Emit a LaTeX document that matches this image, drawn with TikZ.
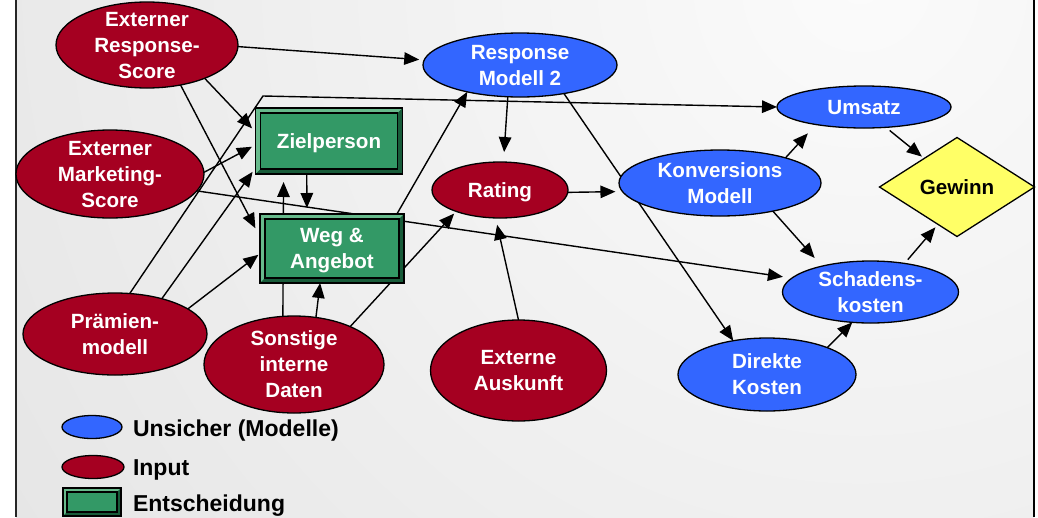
\documentclass[tikz,border=0pt]{standalone}
\usepackage{fontspec}
\setmainfont{Liberation Sans}
\usetikzlibrary{shapes.geometric,arrows.meta,calc}
\pgfdeclarelayer{bg}
\pgfdeclarelayer{edges}
\pgfsetlayers{bg,edges,main}

\definecolor{inred}{RGB}{165,0,33}
\definecolor{unblue}{RGB}{51,102,255}
\definecolor{decgreen}{RGB}{51,153,102}
\definecolor{declight}{RGB}{104,186,140}
\definecolor{decdark}{RGB}{24,92,58}
\definecolor{goalyellow}{RGB}{255,255,102}
\definecolor{paneldark}{RGB}{227,227,227}
\definecolor{panellight}{RGB}{251,251,251}

% centred multi-line label that does not enlarge its node
\newcommand\lbl[1]{\smash{\makebox[0pt]{\raisebox{-0.35em}{\begin{tabular}{@{}c@{}}#1\end{tabular}}}}}

% bevelled frame of a decision box
\newcommand\decbevel[2]{%
  \fill[declight] (#1.north west) -- (#1.north east) -- ($(#1.north east)+(-#2,-#2)$)
    -- ($(#1.north west)+(#2,-#2)$) -- ($(#1.south west)+(#2,#2)$) -- (#1.south west) -- cycle;
  \fill[decdark] (#1.south east) -- (#1.north east) -- ($(#1.north east)+(-#2,-#2)$)
    -- ($(#1.south east)+(-#2,#2)$) -- ($(#1.south west)+(#2,#2)$) -- (#1.south west) -- cycle;
  \draw[line width=1.2] ($(#1.north west)+(#2,-#2)$) rectangle ($(#1.south east)+(-#2,#2)$);
  \draw[line width=1.4] (#1.north west) rectangle (#1.south east);
}

\tikzset{
  x=1pt, y=1pt,
  every node/.style={inner sep=0, outer sep=0},
  nodefont/.style={font=\fontsize{20.6}{26}\selectfont\bfseries},
  inell/.style={nodefont, ellipse, draw=black, line width=1.3, fill=inred, text=white},
  unell/.style={nodefont, ellipse, draw=black, line width=1.3, fill=unblue, text=white},
  decbox/.style={nodefont, rectangle, draw=black, line width=1.3, fill=decgreen, text=white},
  goal/.style={nodefont, diamond, draw=black, line width=1.3, fill=goalyellow, text=black},
  legtext/.style={font=\fontsize{23}{28}\selectfont\bfseries, text=black, anchor=base west},
  arr/.style={-{Triangle[length=15pt,width=12.5pt]}, line width=1.4, black}
}

\begin{document}
\begin{tikzpicture}
\useasboundingbox (0,0) rectangle (1038,-517);

% panel background
\begin{pgfonlayer}{bg}
  \fill[white] (0,0) rectangle (1038,-517);
  \begin{scope}
    \clip (16,0) rectangle (1034,-517);
    \fill[paneldark] (16,0) rectangle (1034,-517);
    \shade[inner color=panellight, outer color=paneldark] (860,20) circle (1150);
  \end{scope}
  \draw[line width=1.5, black!85] (16,0) -- (16,-517);
  \draw[line width=2] (1034,0) -- (1034,-517);
\end{pgfonlayer}

% inputs
\node[inell, minimum width=182, minimum height=86] (ers) at (147,-45) {\lbl{Externer\\Response-\\Score}};
\node[inell, minimum width=188, minimum height=88] (ems) at (110,-174) {\lbl{Externer\\Marketing-\\Score}};
\node[inell, minimum width=184, minimum height=82] (praem) at (115,-334) {\lbl{Prämien-\\modell}};
\node[inell, minimum width=180, minimum height=97] (son) at (294,-364.5) {\lbl{Sonstige\\interne\\Daten}};
\node[inell, minimum width=176, minimum height=101] (aus) at (518.5,-370.5) {\lbl{Externe\\Auskunft}};
\node[inell, minimum width=136, minimum height=56] (rat) at (500,-190) {\lbl{Rating}};

% uncertain quantities (models)
\node[unell, minimum width=194, minimum height=64] (rm2) at (520,-65) {\lbl{Response\\Modell 2}};
\node[unell, minimum width=202, minimum height=66] (konv) at (720,-183) {\lbl{Konversions\\Modell}};
\node[unell, minimum width=174, minimum height=42] (ums) at (864,-107) {\lbl{Umsatz}};
\node[unell, minimum width=176, minimum height=62] (sch) at (870.5,-292) {\lbl{Schadens-\\kosten}};
\node[unell, minimum width=178, minimum height=73] (dir) at (767,-374.5) {\lbl{Direkte\\Kosten}};

% decisions
\node[decbox, minimum width=147, minimum height=66] (ziel) at (329,-141) {\lbl{Zielperson}};
\node[decbox, minimum width=144, minimum height=69] (weg) at (332,-248.5) {\lbl{Weg \&\\Angebot}};
\decbevel{ziel}{5}
\decbevel{weg}{5}

% objective
\node[goal, minimum width=155, minimum height=99] (gew) at (957,-187) {\lbl{Gewinn}};

% influences
\coordinate (bend) at (263,-96);
\begin{pgfonlayer}{edges}
  \draw[arr, shorten >=5] (ers.-1) -- (rm2.177);
  \draw[arr, shorten >=5] (ers.-30) -- (ziel.173);
  \draw[arr, shorten >=10] (ers.-50) -- (weg.171);
  \draw[arr, shorten >=4] (ems.1) -- (ziel.183);
  \draw[arr, shorten >=9] (ems.-11) -- (sch.170);
  \draw[arr] (praem.70) -- (bend) -- (ums.180);
  \draw[arr, shorten >=5] (praem.37) -- (ziel.200);
  \draw[arr, shorten >=2] (praem.19) -- (weg.184);
  \draw[arr, shorten >=6] (ziel.236) -- (weg.126);
  \draw[arr, shorten >=8] (son.103) -- (ziel.216);
  \draw[arr] (son.65) -- (weg.251);
  \draw[arr, shorten >=3] (son.34) -- (rat.206);
  \draw[arr] (weg.28) -- (rm2.207);
  \draw[arr, shorten >=10] (rm2.249) -- (rat.83);
  \draw[arr] (rm2.-33) -- (dir.135);
  \draw[arr, shorten >=7] (rat.-2) -- (konv.185);
  \draw[arr, shorten >=7] (aus.90) -- (rat.261);
  \draw[arr, shorten >=12] (konv.21) -- (ums.200);
  \draw[arr, shorten >=11] (konv.-28) -- (sch.152);
  \draw[arr, shorten <=5, shorten >=3] (ums.-43) -- (gew.139);
  \draw[arr, shorten <=5, shorten >=4] (sch.40) -- (gew.243);
  \draw[arr] (dir.24) -- (sch.239);
\end{pgfonlayer}

% legend
\node[unell, minimum width=60, minimum height=23] (lgu) at (92,-427) {};
\node[inell, minimum width=62, minimum height=23] (lgi) at (93,-467) {};
\node[decbox, minimum width=58, minimum height=28] (lgd) at (92,-502) {};
\decbevel{lgd}{4}
\node[legtext] (ltu) at (133,-436) {Unsicher (Modelle)};
\node[legtext] (lti) at (133,-475) {Input};
\node[legtext] (ltd) at (133,-511) {Entscheidung};
\end{tikzpicture}
\end{document}
